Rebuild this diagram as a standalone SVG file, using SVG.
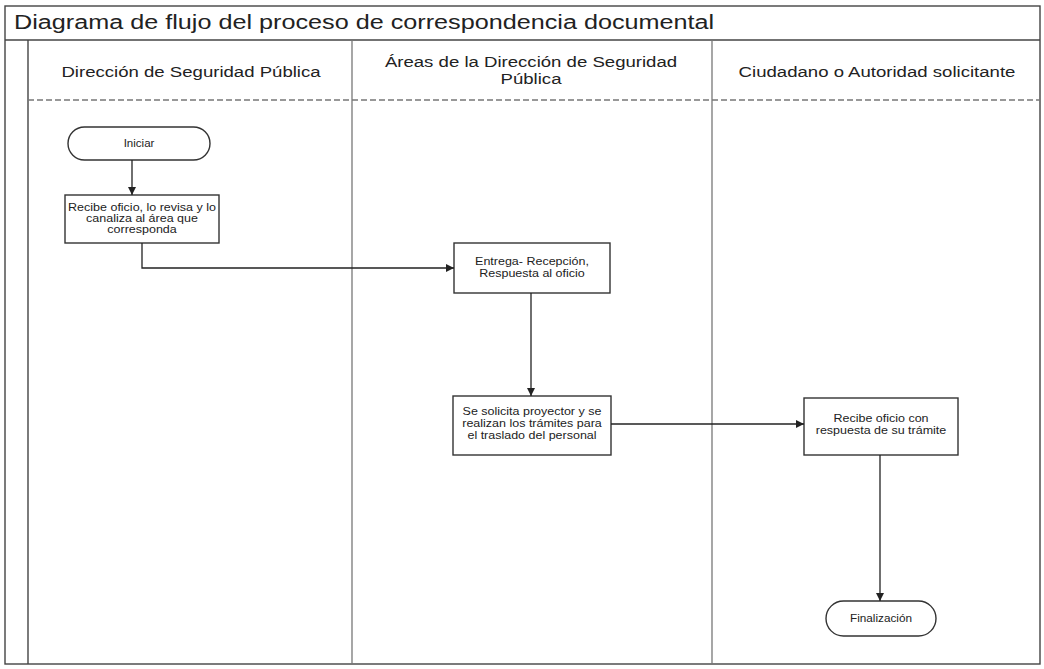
<svg xmlns="http://www.w3.org/2000/svg" width="1044" height="669" viewBox="0 0 1044 669">
<style>
text{font-family:"Liberation Sans",Arial,sans-serif;fill:#222}
.title{font-size:21px}
.lane{font-size:15px;text-anchor:middle}
.nt{font-size:10.5px;text-anchor:middle}
.box{fill:#fff;stroke:#333;stroke-width:1.4}
.frame{fill:none;stroke:#444;stroke-width:1.4}
.sep{stroke:#777;stroke-width:1.3;fill:none}
.conn{stroke:#222;stroke-width:1.3;fill:none;marker-end:url(#arr)}
</style>
<defs>
<marker id="arr" viewBox="0 0 10 10" refX="10" refY="5" markerWidth="8" markerHeight="8" markerUnits="userSpaceOnUse" orient="auto">
<path d="M0,0 L10,5 L0,10 z" fill="#222"/>
</marker>
</defs>
<rect width="1044" height="669" fill="#fff"/>
<g id="frame">
<rect class="frame" x="5" y="6" width="1035" height="658"/>
<line class="frame" x1="5" y1="40" x2="1040" y2="40"/>
<line class="frame" x1="28" y1="40" x2="28" y2="664"/>
<line class="sep" x1="28" y1="100" x2="1040" y2="100" stroke-dasharray="6 3"/>
<line class="sep" x1="352" y1="40" x2="352" y2="664"/>
<line class="sep" x1="712" y1="40" x2="712" y2="664"/>
<g transform="translate(14,29) scale(1.2,1)"><text class="title" x="0" y="0">Diagrama de flujo del proceso de correspondencia documental</text></g>
<g transform="translate(191,77) scale(1.24,1)"><text class="lane" x="0" y="0">Dirección de Seguridad Pública</text></g>
<g transform="translate(531,0) scale(1.24,1)"><text class="lane" x="0" y="67">Áreas de la Dirección de Seguridad</text><text class="lane" x="0" y="84">Pública</text></g>
<g transform="translate(877,77) scale(1.24,1)"><text class="lane" x="0" y="0">Ciudadano o Autoridad solicitante</text></g>
</g>
<g id="n-iniciar">
<rect class="box" x="68" y="127" width="142" height="33" rx="16.5"/>
<g transform="translate(139,0) scale(1.1,1)"><text class="nt" x="0" y="147">Iniciar</text></g>
</g>
<g id="n-recibe">
<rect class="box" x="65" y="195" width="154" height="48"/>
<g transform="translate(142,0) scale(1.19,1)">
<text class="nt" x="0" y="211">Recibe oficio, lo revisa y lo</text>
<text class="nt" x="0" y="222">canaliza al área que</text>
<text class="nt" x="0" y="233">corresponda</text>
</g>
</g>
<g id="n-entrega">
<rect class="box" x="454" y="243" width="156" height="50"/>
<g transform="translate(532,0) scale(1.19,1)">
<text class="nt" x="0" y="265">Entrega- Recepción,</text>
<text class="nt" x="0" y="277">Respuesta al oficio</text>
</g>
</g>
<g id="n-solicita">
<rect class="box" x="453" y="396" width="158" height="59"/>
<g transform="translate(532,0) scale(1.19,1)">
<text class="nt" x="0" y="415">Se solicita proyector y se</text>
<text class="nt" x="0" y="427">realizan los trámites para</text>
<text class="nt" x="0" y="439">el traslado del personal</text>
</g>
</g>
<g id="n-recibe2">
<rect class="box" x="804" y="398" width="154" height="57"/>
<g transform="translate(881,0) scale(1.19,1)">
<text class="nt" x="0" y="422">Recibe oficio con</text>
<text class="nt" x="0" y="434">respuesta de su trámite</text>
</g>
</g>
<g id="n-fin">
<rect class="box" x="826" y="601" width="110" height="35" rx="17.5"/>
<g transform="translate(881,0) scale(1.12,1)"><text class="nt" x="0" y="622">Finalización</text></g>
</g>
<g id="connectors">
<path class="conn" d="M132,160 V195"/>
<path class="conn" d="M142,243 V268 H454"/>
<path class="conn" d="M531,293 V396"/>
<path class="conn" d="M611,424 H804"/>
<path class="conn" d="M880,455 V601"/>
</g>
</svg>
